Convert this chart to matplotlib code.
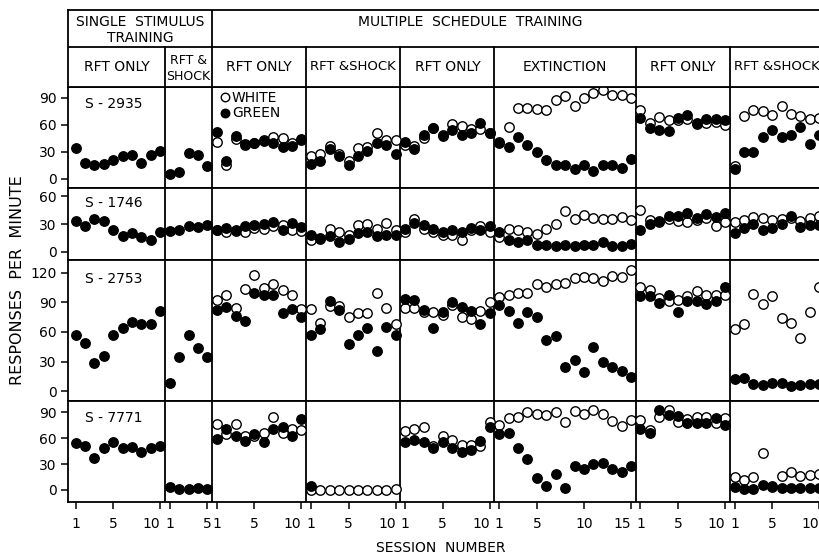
import numpy as np
import matplotlib
matplotlib.use('Agg')
import matplotlib.pyplot as plt

# phases of the experiment (columns) and sessions per phase
phases = ['RFT ONLY', 'RFT &\nSHOCK', 'RFT ONLY', 'RFT &SHOCK', 'RFT ONLY',
          'EXTINCTION', 'RFT ONLY', 'RFT &SHOCK']
sessions = [10, 5, 10, 10, 10, 15, 10, 10]
session_ticks = [[1, 5, 10], [1, 5], [1, 5, 10], [1, 5, 10], [1, 5, 10],
                 [1, 5, 10, 15], [1, 5, 10], [1, 5, 10]]

subjects = ['S - 2935', 'S - 1746', 'S - 2753', 'S - 7771']
yticks = [[0, 30, 60, 90], [0, 30, 60], [0, 30, 60, 90, 120], [0, 30, 60, 90]]
ylims = [(-10, 102), (-9, 69), (-10, 133), (-14, 103)]

nan = np.nan

# responses per minute, one list per phase (single stimulus phases have no white)
s2935_green = [
    [34, 18, 15, 17, 21, 25, 27, 18, 27, 31],
    [6, 8, 29, 27, 14],
    [52, 20, 48, 39, 40, 42, 40, 36, 37, 44],
    [17, 20, 33, 25, 15, 26, 31, 40, 38, 28],
    [41, 33, 49, 57, 48, 54, 49, 51, 62, 51],
    [40, 36, 47, 38, 30, 21, 16, 15, 11, 16, 9, 16, 16, 12, 22],
    [68, 57, 54, 53, 68, 71, 62, 66, 66, 65],
    [11, 30, 30, 47, 54, 47, 49, 58, 39, 49],
]
s2935_white = [
    None, None,
    [41, 16, 44, 38, 40, 43, 47, 46, 40, 43],
    [26, 28, 37, 28, 20, 34, 35, 51, 43, 43],
    [38, 37, 45, 57, 49, 61, 59, 55, 55, 51],
    [41, 58, 79, 79, 78, 77, 88, 92, 81, 90, 95, 99, 93, 93, 90],
    [77, 62, 69, 65, 65, 67, 61, 62, 63, 60],
    [14, 70, 76, 75, 71, 81, 72, 70, 67, 68],
]

s1746_green = [
    [33, 28, 35, 33, 23, 17, 20, 16, 13, 21],
    [22, 24, 28, 27, 29],
    [23, 26, 23, 28, 29, 30, 32, 23, 31, 27],
    [18, 15, 17, 11, 14, 20, 21, 17, 18, 18],
    [25, 31, 29, 25, 21, 23, 21, 26, 23, 28],
    [21, 13, 11, 13, 7, 7, 6, 7, 6, 7, 7, 10, 6, 6, 8],
    [24, 30, 33, 39, 39, 42, 37, 41, 38, 42],
    [20, 26, 30, 23, 26, 30, 39, 27, 29, 29],
]
s1746_white = [
    None, None,
    [23, 21, 22, 21, 26, 25, 28, 29, 23, 22],
    [13, 14, 25, 21, 18, 29, 30, 25, 31, 23],
    [21, 35, 25, 21, 18, 18, 13, 23, 28, 21],
    [16, 25, 23, 21, 19, 25, 30, 44, 35, 40, 36, 35, 35, 38, 34],
    [45, 34, 32, 35, 33, 32, 34, 36, 28, 32],
    [32, 34, 38, 36, 34, 35, 36, 33, 37, 39],
]

s2753_green = [
    [57, 49, 29, 36, 57, 64, 70, 68, 68, 81],
    [8, 35, 57, 44, 35],
    [82, 85, 76, 71, 100, 97, 97, 79, 83, 75],
    [57, 63, 91, 82, 48, 57, 64, 41, 65, 57],
    [93, 92, 82, 64, 80, 90, 85, 81, 68, 79],
    [87, 81, 69, 80, 75, 52, 56, 24, 32, 19, 45, 30, 24, 20, 14],
    [96, 96, 89, 97, 80, 91, 91, 88, 91, 106],
    [12, 13, 7, 6, 8, 8, 5, 6, 7, 7],
]
s2753_white = [
    None, None,
    [92, 98, 84, 104, 118, 105, 109, 103, 98, 83],
    [83, 69, 86, 86, 75, 79, 79, 100, 84, 68],
    [84, 84, 80, 80, 77, 87, 75, 73, 81, 90],
    [95, 97, 100, 100, 109, 106, 109, 110, 115, 116, 115, 112, 117, 116, 123],
    [106, 103, 94, 91, 92, 96, 102, 98, 98, 97],
    [63, 68, 99, 88, 96, 74, 69, 54, 80, 106],
]

s7771_green = [
    [54, 51, 37, 48, 55, 48, 50, 44, 48, 51],
    [3, 1, 1, 2, 1],
    [59, 70, 62, 57, 65, 56, 70, 73, 63, 82],
    [5, nan, nan, nan, nan, nan, nan, nan, nan, nan],
    [55, 58, 56, 48, 56, 48, 44, 46, 57, 73],
    [65, 66, 48, 36, 14, 4, 19, 2, 28, 24, 30, 31, 24, 21, 28],
    [70, 66, 93, 87, 86, 77, 78, 78, 83, 75],
    [3, 1, 1, 6, 4, 2, 2, 2, 2, 2],
]
s7771_white = [
    None, None,
    [76, 65, 76, 63, 62, 66, 84, 66, 70, 69],
    [0, 0, 0, 0, 0, 0, 0, 0, 0, 1],
    [68, 71, 73, 51, 62, 58, 52, 52, 51, 79],
    [75, 83, 85, 90, 88, 87, 90, 79, 91, 88, 92, 88, 80, 74, 81],
    [81, 69, 84, 92, 79, 82, 84, 84, 78, 83],
    [15, 12, 15, 43, 3, 16, 21, 16, 17, 19],
]

greens = [s2935_green, s1746_green, s2753_green, s7771_green]
whites = [s2935_white, s1746_white, s2753_white, s7771_white]

plt.rcParams['font.family'] = ['DejaVu Sans']
W, H = 820, 558
fig = plt.figure(figsize=(W / 100, H / 100), dpi=100)

offsets = np.concatenate([[0], np.cumsum(sessions)[:-1]])
xmin, xmax = -0.3, float(sum(sessions))
left_px, right_px = 68, 824
ax_left = left_px / W
ax_w = (right_px - left_px) / W
lw = 1.3
ms = 6.8

rows_px = [(87, 188), (188, 260), (260, 401), (401, 502)]
label_y = [0.83, 0.79, 0.865, 0.83]

axes = []
for r, (top, bot) in enumerate(rows_px):
    ax = fig.add_axes([ax_left, 1 - bot / H, ax_w, (bot - top) / H])
    axes.append(ax)
    for p in range(len(phases)):
        xs = offsets[p] + np.arange(1, sessions[p] + 1) - 0.5
        if whites[r][p] is not None:
            hw, = ax.plot(xs, whites[r][p], 'o', ls='', ms=ms, mfc='white',
                          mec='black', mew=1.0, zorder=3)
        hg, = ax.plot(xs, greens[r][p], 'o', ls='', ms=ms, mfc='black',
                      mec='black', mew=1.0, zorder=4)
        if r == 0 and p == 2:
            leg_handles = [hw, hg]
    for p in range(1, len(phases)):
        ax.axvline(offsets[p], color='black', lw=lw, zorder=2)
    ax.set_xlim(xmin, xmax)
    ax.set_ylim(*ylims[r])
    ax.set_yticks(yticks[r])
    ax.tick_params(axis='y', direction='out', length=5, width=1.1,
                   labelsize=10, pad=3)
    for s in ax.spines.values():
        s.set_linewidth(lw)
    ax.text(4.6, label_y[r], subjects[r], transform=ax.get_xaxis_transform(),
            ha='center', va='center', fontsize=10)
    if r < 3:
        ax.set_xticks([])
    else:
        pos, labs, last = [], [], []
        for p in range(len(phases)):
            for t in session_ticks[p]:
                pos.append(offsets[p] + t - 0.5)
                labs.append(str(t))
                last.append(t == session_ticks[p][-1] and t >= 10)
        ax.set_xticks(pos)
        ax.set_xticklabels(labs)
        ax.tick_params(axis='x', direction='out', length=5, width=1.1,
                       labelsize=10, pad=6)
        # two-digit end-of-phase labels sit left of their tick, as in the original
        for lab, is_last in zip(ax.get_xticklabels(), last):
            if is_last:
                lab.set_horizontalalignment('right')

axes[0].legend(leg_handles, ['WHITE', 'GREEN'], loc='upper left',
               bbox_to_anchor=((218 - left_px) / (right_px - left_px), 0.96),
               frameon=False, handletextpad=0.0, handlelength=1.0,
               borderpad=0, borderaxespad=0, labelspacing=0.1, fontsize=10,
               markerscale=0.9)

# header boxes
hdr = fig.add_axes([ax_left, 1 - 87 / H, ax_w, 77 / H])
hdr.set_xlim(xmin, xmax)
hdr.set_ylim(0, 1)
hdr.set_xticks([])
hdr.set_yticks([])
for s in hdr.spines.values():
    s.set_linewidth(lw)
mid = (87 - 47) / 77
hdr.axhline(mid, color='black', lw=lw)
hdr.axvline(offsets[2], color='black', lw=lw)
for p in [1, 3, 4, 5, 6, 7]:
    hdr.axvline(offsets[p], 0, mid, color='black', lw=lw)

hdr.text((xmin + offsets[2]) / 2, (87 - 22) / 77, 'SINGLE  STIMULUS',
         ha='center', va='center', fontsize=10)
hdr.text((xmin + offsets[2]) / 2, (87 - 38) / 77, 'TRAINING',
         ha='center', va='center', fontsize=10)
hdr.text(42.4, (87 - 22) / 77, 'MULTIPLE  SCHEDULE  TRAINING',
         ha='center', va='center', fontsize=10)
for p, name in enumerate(phases):
    cx = offsets[p] + sessions[p] / 2
    if p == 0:
        cx = (xmin + sessions[0]) / 2
    if '\n' in name:
        a, b = name.split('\n')
        hdr.text(cx, (87 - 61) / 77, a, ha='center', va='center', fontsize=9)
        hdr.text(cx, (87 - 76) / 77, b, ha='center', va='center', fontsize=9)
    else:
        hdr.text(cx, (87 - 67) / 77, name, ha='center', va='center',
                 fontsize=9.5 if 'SHOCK' in name else 10)

fig.text(18 / W, 1 - 280 / H, 'RESPONSES  PER  MINUTE', rotation=90,
         ha='center', va='center', fontsize=11.5)
fig.text(441 / W, 1 - 548 / H, 'SESSION  NUMBER', ha='center', va='center',
         fontsize=10)

fig.savefig('out.png', dpi=100, facecolor='white')
